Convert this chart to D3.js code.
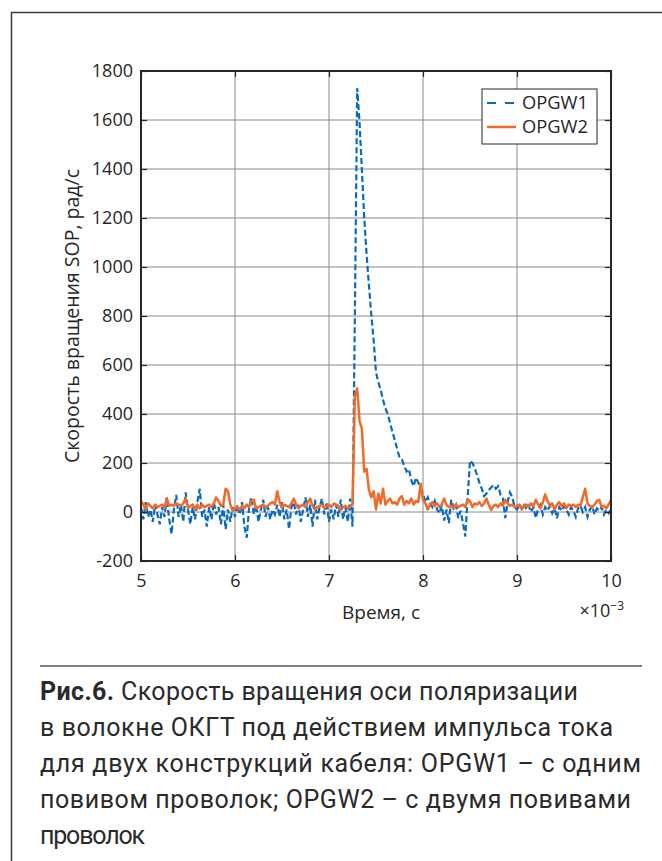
<!DOCTYPE html>
<html><head><meta charset="utf-8">
<script src="https://cdn.jsdelivr.net/npm/d3@7"></script>
<style>body{margin:0;background:#fff} svg{display:block}</style>
</head><body>
<svg id="c" width="662" height="861"></svg>
<script>
// ---- data (time in ms, value in rad/s) ----
const seriesNames = ["OPGW1", "OPGW2"];
const timeStart = 5, timeStep = 0.025;
const opgw1 = [
 20,-30,40,-20,10,-40,30,-10,-50,20, -20,60,-30,-90,10,70,-20,30,-40,80,
 10,-50,20,-30,40,95,-20,10,-60,20, -30,40,-10,20,-50,30,-70,10,-40,20,
 -20,30,-10,40,-60,-105,20,60,-10,30, -40,10,50,-20,20,-30,10,-10,30,-20,
 40,-30,10,-70,20,40,-10,30,-40,10, 60,-20,30,-60,50,-30,20,55,-10,40,
 -40,10,-30,30,-20,50,-30,20,-40,55, -60,800,1730,1590,1395,1200,1050,925,805,700,
 570,530,498,457,424,400,363,327,294,257, 224,215,190,165,175,130,105,140,120,95,
 75,40,60,35,20,45,10,-5,25,-35, 10,-45,50,15,30,-25,5,-45,-100,60,
 210,200,180,150,120,95,65,75,90,100, 110,95,105,70,55,-25,40,80,60,20,
 10,30,15,35,10,25,0,20,-25,15, 30,-10,20,5,25,-5,15,-25,20,5,
 25,10,-10,20,5,-20,15,25,0,20, -20,10,25,-10,15,5,20,-10,10,-5,
 10
];
const opgw2 = [
 45,30,10,35,25,15,30,20,25,30, 20,55,25,30,25,35,30,25,35,55,
 15,25,30,10,30,15,30,20,25,30, 20,35,60,45,25,30,95,85,30,5,
 15,20,10,25,15,30,20,45,50,15, 20,25,30,20,25,35,40,30,85,40,
 15,30,25,20,35,55,30,15,25,30, 20,40,55,25,10,20,25,30,15,25,
 30,20,35,30,25,10,20,25,15,20, 30,470,505,370,340,165,175,90,60,85,
 10,75,35,95,30,45,55,35,40,30, 55,65,30,45,35,55,30,45,40,115,
 50,35,10,30,40,25,35,20,30,55, 30,20,25,15,30,20,25,30,20,50,
 45,20,35,30,40,25,35,55,30,8, 25,30,20,35,25,50,35,25,30,20,
 25,30,10,25,30,20,35,25,50,30, 15,40,72,45,25,35,10,30,40,25,
 35,15,30,25,30,20,30,25,60,95, 35,25,20,30,45,50,20,25,15,30,
 50
];
const seriesColors = ["#0a6bbd", "#f26a2a"];
const xTicks = [5, 6, 7, 8, 9, 10];
const yTicks = [-200, 0, 200, 400, 600, 800, 1000, 1200, 1400, 1600, 1800];
const xLabel = "Время, с";
const xExponent = "×10";
const xExponentSup = "−3";
const yLabel = "Скорость вращения SOP, рад/с";
const captionBold = "Рис.6.";
const captionLines = [
 " Скорость вращения оси поляризации",
 "в волокне ОКГТ под действием импульса тока",
 "для двух конструкций кабеля: OPGW1 – с одним",
 "повивом проволок; OPGW2 – с двумя повивами",
 "проволок"
];

// ---- layout ----
const svg = d3.select("#c");
const L = 141, R = 611, T = 71, B = 561;
const x = d3.scaleLinear().domain([5, 10]).range([L, R]);
const y = d3.scaleLinear().domain([-200, 1800]).range([B, T]);
const ink = "#262626";
const font = "'Open Sans', 'Noto Sans', sans-serif";
const capFont = "Roboto, 'Open Sans', sans-serif";

// outer frame
svg.append("path").attr("d", "M11.5,861 V12.5 H662")
  .attr("fill", "none").attr("stroke", "#3a3a3a").attr("stroke-width", 1.5);

// grid
const g = svg.append("g");
g.selectAll("line.gx").data(xTicks).join("line")
  .attr("x1", d => x(d)).attr("x2", d => x(d)).attr("y1", T).attr("y2", B)
  .attr("stroke", "#8a8a8a").attr("stroke-width", 1);
g.selectAll("line.gy").data(yTicks).join("line")
  .attr("y1", d => y(d)).attr("y2", d => y(d)).attr("x1", L).attr("x2", R)
  .attr("stroke", "#8a8a8a").attr("stroke-width", 1);

// data lines
svg.append("clipPath").attr("id", "clip").append("rect")
  .attr("x", L).attr("y", T).attr("width", R - L).attr("height", B - T);
const time = opgw1.map((_, i) => timeStart + i * timeStep);
const line = d3.line().x((d, i) => x(time[i])).y(d => y(d));
const plot = svg.append("g").attr("clip-path", "url(#clip)");
plot.append("path").datum(opgw1).attr("d", line).attr("fill", "none")
  .attr("stroke", seriesColors[0]).attr("stroke-width", 2.2).attr("stroke-dasharray", "6,3");
plot.append("path").datum(opgw2).attr("d", line).attr("fill", "none")
  .attr("stroke", seriesColors[1]).attr("stroke-width", 2.5).attr("stroke-linejoin", "round");

// axes (ticks inward, box)
const tickStyle = sel => {
  sel.select(".domain").remove();
  sel.selectAll(".tick line").attr("stroke", ink).attr("stroke-width", 1.2);
};
const fmt = d => String(d);
const xb = svg.append("g").attr("transform", `translate(0,${B})`)
  .call(d3.axisBottom(x).tickValues(xTicks).tickSize(-6).tickPadding(13).tickFormat(fmt));
tickStyle(xb);
xb.selectAll("text").attr("font-family", font).attr("font-size", 18).attr("fill", ink);
const xt = svg.append("g").attr("transform", `translate(0,${T})`)
  .call(d3.axisTop(x).tickValues(xTicks).tickSize(-6).tickFormat(""));
tickStyle(xt);
const yl = svg.append("g").attr("transform", `translate(${L},0)`)
  .call(d3.axisLeft(y).tickValues(yTicks).tickSize(-6).tickPadding(8).tickFormat(fmt));
tickStyle(yl);
yl.selectAll("text").attr("font-family", font).attr("font-size", 18).attr("fill", ink);
const yr = svg.append("g").attr("transform", `translate(${R},0)`)
  .call(d3.axisRight(y).tickValues(yTicks).tickSize(-6).tickFormat(""));
tickStyle(yr);
svg.append("rect").attr("x", L).attr("y", T).attr("width", R - L).attr("height", B - T)
  .attr("fill", "none").attr("stroke", ink).attr("stroke-width", 2);

// axis labels
svg.append("text").attr("x", 381).attr("y", 619).attr("text-anchor", "middle")
  .attr("font-family", font).attr("font-size", 19).attr("fill", ink).text(xLabel);
const ex = svg.append("text").attr("x", 624).attr("y", 617).attr("text-anchor", "end")
  .attr("font-family", font).attr("font-size", 18).attr("fill", ink);
ex.append("tspan").text(xExponent);
ex.append("tspan").attr("dy", -7).attr("font-size", 12).text(xExponentSup);
svg.append("text").attr("transform", "translate(79,316) rotate(-90)").attr("text-anchor", "middle")
  .attr("font-family", font).attr("font-size", 19.5).attr("fill", ink).text(yLabel);

// legend
const lg = svg.append("g");
lg.append("rect").attr("x", 482).attr("y", 89).attr("width", 115).attr("height", 55)
  .attr("fill", "#fff").attr("stroke", ink).attr("stroke-width", 1);
seriesNames.forEach((n, i) => {
  const yy = 103 + i * 24;
  lg.append("line").attr("x1", 487).attr("x2", 516).attr("y1", yy).attr("y2", yy)
    .attr("stroke", seriesColors[i]).attr("stroke-width", i ? 2.5 : 2)
    .attr("stroke-dasharray", i ? null : "9,9");
  lg.append("text").attr("x", 522).attr("y", yy).attr("dy", "0.36em")
    .attr("font-family", font).attr("font-size", 17.5).attr("fill", ink)
    .attr("textLength", 66).attr("lengthAdjust", "spacingAndGlyphs").text(n);
});

// caption
svg.append("line").attr("x1", 40).attr("x2", 642).attr("y1", 666).attr("y2", 666)
  .attr("stroke", "#555").attr("stroke-width", 1.3);
const capWidths = [538, 573, 601, 591, 105];
const capNodes = captionLines.map((t, i) => {
  const tx = svg.append("text").attr("x", 40).attr("y", 700 + i * 36)
    .attr("font-family", capFont).attr("font-size", 22).attr("fill", "#2a2a2a");
  if (i === 0) tx.append("tspan").attr("font-weight", 700).text(captionBold);
  tx.append("tspan").text(t);
  return tx;
});
// choose font size from a full line, then fine-fit each line
const nat = capNodes[1].node().getComputedTextLength();
let fs = Math.max(20, Math.min(25, 22 * capWidths[1] / nat));
capNodes.forEach((tx, i) => {
  tx.attr("font-size", fs).attr("textLength", capWidths[i]).attr("lengthAdjust", "spacing");
});
</script>
</body></html>
